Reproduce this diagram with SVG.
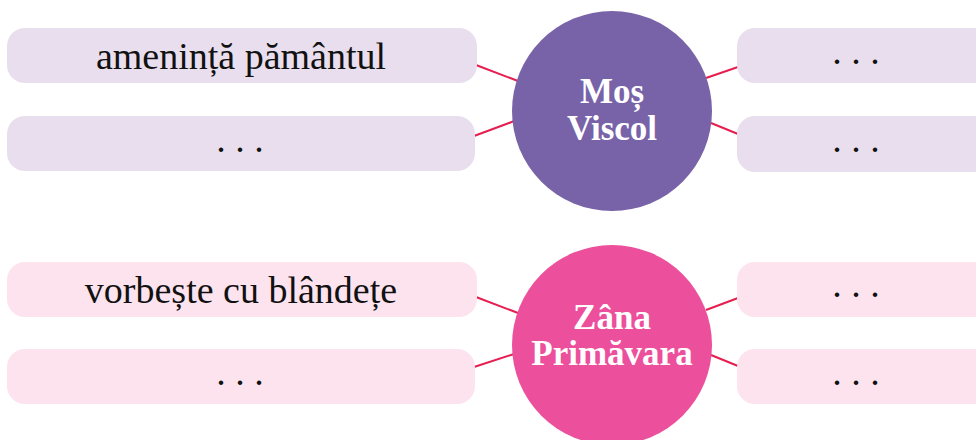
<svg xmlns="http://www.w3.org/2000/svg" width="976" height="440" viewBox="0 0 976 440">
<style>
.bp{fill:#E9DEEE}
.bk{fill:#FCE3EE}
.t{font-family:"Liberation Serif",serif;font-size:38px;fill:#111;text-anchor:middle}
.c{font-family:"Liberation Serif",serif;font-size:35px;font-weight:bold;fill:#fff;text-anchor:middle}
.ln{stroke:#E61E50;stroke-width:2;fill:none}
</style>
<rect width="976" height="440" fill="#fff"/>
<g id="connectors">
<line class="ln" x1="476" y1="65" x2="518" y2="81"/>
<line class="ln" x1="474" y1="136" x2="517" y2="120"/>
<line class="ln" x1="706" y1="78" x2="738" y2="67"/>
<line class="ln" x1="711" y1="123" x2="738" y2="134"/>
<line class="ln" x1="476" y1="297" x2="518" y2="313"/>
<line class="ln" x1="474" y1="367" x2="517" y2="353"/>
<line class="ln" x1="706" y1="310" x2="738" y2="298"/>
<line class="ln" x1="711" y1="355" x2="738" y2="366"/>
</g>
<g id="box-l1"><rect class="bp" x="7" y="28" width="470" height="55" rx="18"/><text class="t" x="241" y="69">amenință pământul</text></g>
<g id="box-l2"><rect class="bp" x="7" y="116" width="468" height="55" rx="18"/><text class="t" x="240" y="152">. . .</text></g>
<g id="box-r1"><rect class="bp" x="737" y="28" width="260" height="55" rx="18"/><text class="t" x="856" y="64">. . .</text></g>
<g id="box-r2"><rect class="bp" x="737" y="116" width="260" height="56" rx="18"/><text class="t" x="856" y="152">. . .</text></g>
<g id="node-mos"><circle cx="612" cy="111" r="100" fill="#7862A8"/><text class="c" x="612" y="103">Moș</text><text class="c" x="612" y="140">Viscol</text></g>
<g id="box-l3"><rect class="bk" x="7" y="262" width="470" height="55" rx="18"/><text class="t" x="241" y="303">vorbește cu blândețe</text></g>
<g id="box-l4"><rect class="bk" x="7" y="349" width="468" height="55" rx="18"/><text class="t" x="240" y="385">. . .</text></g>
<g id="box-r3"><rect class="bk" x="737" y="262" width="260" height="55" rx="18"/><text class="t" x="856" y="297">. . .</text></g>
<g id="box-r4"><rect class="bk" x="737" y="349" width="260" height="55" rx="18"/><text class="t" x="856" y="385">. . .</text></g>
<g id="node-zana"><circle cx="612" cy="345" r="100" fill="#EC4F9B"/><text class="c" x="612" y="329">Zâna</text><text class="c" x="612" y="365">Primăvara</text></g>
</svg>
